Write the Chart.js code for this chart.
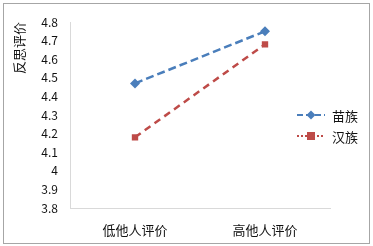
<!DOCTYPE html>
<html>
<head>
<meta charset="utf-8">
<script src="https://cdn.jsdelivr.net/npm/chart.js@4.4.0/dist/chart.umd.min.js"></script>
<style>
  body { margin: 0; background: #fff; }
  #wrap { position: relative; width: 373px; height: 246px; }
  #frame { position: absolute; left: 3px; top: 3px; width: 365px; height: 239px; border: 1px solid #a6a6a6; pointer-events: none; }
</style>
</head>
<body>
<div id="wrap">
  <canvas id="chart" width="373" height="246"></canvas>
  <div id="frame"></div>
</div>
<script>
// categories and values
var categories = ['低他人评价', '高他人评价'];
var miaoValues = [4.47, 4.75];
var hanValues = [4.18, 4.68];
var seriesNames = ['苗族', '汉族'];
var yTitle = '反思评价';

var blue = '#4a7ebb';
var red = '#be4b48';
var font = '"Noto Sans CJK SC", "Noto Sans", sans-serif';

// small legend drawn over the right side of the plot, like the original
var legendPlugin = {
  id: 'sideLegend',
  afterDraw: function(chart) {
    var ctx = chart.ctx;
    var rows = [
      {name: seriesNames[0], color: blue, dash: [6, 3], y: 115, marker: 'diamond'},
      {name: seriesNames[1], color: red, dash: [2, 2], y: 136, marker: 'square'}
    ];
    ctx.save();
    rows.forEach(function(r) {
      ctx.strokeStyle = r.color;
      ctx.lineWidth = 2;
      ctx.setLineDash(r.dash);
      ctx.beginPath();
      ctx.moveTo(297, r.y);
      ctx.lineTo(325, r.y);
      ctx.stroke();
      ctx.setLineDash([]);
      ctx.fillStyle = r.color;
      ctx.beginPath();
      if (r.marker === 'diamond') {
        ctx.moveTo(311, r.y - 4.5); ctx.lineTo(315.5, r.y); ctx.lineTo(311, r.y + 4.5); ctx.lineTo(306.5, r.y);
      } else {
        ctx.rect(307, r.y - 4, 8, 8);
      }
      ctx.closePath();
      ctx.fill();
      ctx.fillStyle = '#111';
      ctx.font = '13px ' + font;
      ctx.textBaseline = 'middle';
      ctx.fillText(r.name, 332, r.y + 1);
    });
    ctx.restore();
  }
};

new Chart(document.getElementById('chart'), {
  type: 'line',
  data: {
    labels: categories,
    datasets: [
      {
        label: seriesNames[0],
        data: miaoValues,
        borderColor: blue,
        backgroundColor: blue,
        borderWidth: 2.5,
        borderDash: [8, 4],
        pointStyle: 'rectRot',
        pointRadius: 5,
        pointBorderWidth: 0,
        fill: false,
        tension: 0
      },
      {
        label: seriesNames[1],
        data: hanValues,
        borderColor: red,
        backgroundColor: red,
        borderWidth: 2.5,
        borderDash: [7, 5],
        pointStyle: 'rect',
        pointRadius: 4.5,
        pointBorderWidth: 0,
        fill: false,
        tension: 0
      }
    ]
  },
  options: {
    responsive: false,
    animation: false,
    layout: { padding: { top: 22, right: 43, left: 0, bottom: 0 } },
    plugins: {
      legend: { display: false },
      tooltip: { enabled: false }
    },
    scales: {
      x: {
        offset: true,
        grid: { display: false, drawTicks: false },
        border: { color: '#d9d9d9', width: 1 },
        ticks: { color: '#111', font: { family: font, size: 13 }, padding: 14, maxRotation: 0 },
        afterFit: function(s) { s.height = 38; }
      },
      y: {
        min: 3.8,
        max: 4.8,
        grid: { display: false, drawTicks: false },
        border: { color: '#d9d9d9', width: 1 },
        ticks: {
          stepSize: 0.1,
          color: '#111',
          padding: 12,
          font: { family: font, size: 12 },
          callback: function(v) { return String(Number(v.toFixed(1))); }
        },
        title: {
          display: true,
          text: yTitle,
          align: 'end',
          color: '#111',
          font: { family: font, size: 13 },
          padding: { top: 11, bottom: 0 }
        },
        afterFit: function(s) { s.width = 70; }
      }
    }
  },
  plugins: [legendPlugin]
});
</script>
</body>
</html>
